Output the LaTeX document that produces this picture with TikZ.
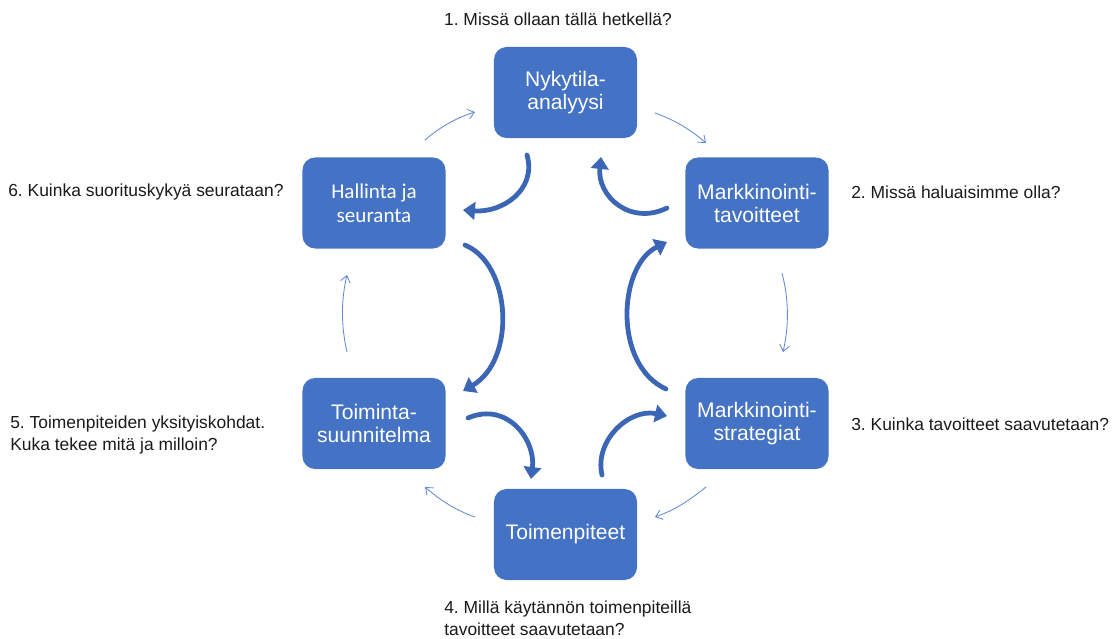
\documentclass[tikz,border=0pt]{standalone}
\usepackage{fontspec}
\setmainfont{Liberation Sans}
\newfontfamily\calfont{Carlito}
\usetikzlibrary{arrows.meta}
\frenchspacing
\definecolor{boxblue}{HTML}{4472C4}
\definecolor{bigblue}{HTML}{3B66B5}
\definecolor{thinblue}{HTML}{6189D3}
\definecolor{labeltext}{HTML}{1A1A1A}
\tikzset{
  stage/.style={draw=none, fill=boxblue, rounded corners=9pt, text=white,
    minimum width=3.575cm, minimum height=2.275cm, align=center,
    font=\fontsize{15}{16.4}\selectfont},
  question/.style={text=labeltext, align=left, inner sep=0pt,
    font=\fontsize{12.4}{15.5}\selectfont},
  flow/.style={thinblue, line width=0.6pt, -{Straight Barb[length=4.5pt,width=7pt]}},
  loop/.style={bigblue, line width=3.4pt, -{Triangle[length=8.5pt,width=12.5pt]}}
}
\begin{document}
\begin{tikzpicture}[x=0.025cm, y=-0.025cm, line cap=round]
      \useasboundingbox (0,0) rectangle (1114,639);

      \node[stage] (nyk) at (565.5,92.5) {Nykytila-\\analyysi};
      \node[stage] (tav) at (757,203) {Markkinointi-\\tavoitteet};
      \node[stage] (str) at (757,423.5) {Markkinointi-\\strategiat};
      \node[stage] (toi) at (565.5,534.5) {Toimenpiteet};
      \node[stage] (suu) at (374,423.5) {Toiminta-\\suunnitelma};
      \node[stage, font=\calfont\fontsize{15}{17}\selectfont] (hal) at (374,203) {Hallinta ja\\seuranta};

      \node[question, anchor=center] (q1) at (558,19) {1. Missä ollaan tällä hetkellä?};
      \node[question, anchor=west] (q2) at (851,192) {2. Missä haluaisimme olla?};
      \node[question, anchor=west] (q3) at (851,424) {3. Kuinka tavoitteet saavutetaan?};
      \node[question, anchor=west] (q4) at (444,618) {4. Millä käytännön toimenpiteillä\\tavoitteet saavutetaan?};
      \node[question, anchor=west] (q5) at (10,435) {5. Toimenpiteiden yksityiskohdat.\\Kuka tekee mitä ja milloin?};
      \node[question, anchor=west] (q6) at (8,192) {6. Kuinka suorituskykyä seurataan?};

      % outer ring
      \coordinate (a1) at (425,140);  \coordinate (a2) at (475,112);
      \coordinate (b1) at (655,113);  \coordinate (b2) at (706,143);
      \coordinate (c1) at (782,273);  \coordinate (c2) at (783,352);
      \coordinate (d1) at (706,487);  \coordinate (d2) at (655,517);
      \coordinate (e1) at (475,517);  \coordinate (e2) at (425,487);
      \coordinate (f1) at (347,352);  \coordinate (f2) at (347,275);

      \draw[flow] (a1) .. controls (440,127) and (456,118) .. (a2);
      \draw[flow] (b1) .. controls (675,120) and (691,130) .. (b2);
      \draw[flow] (c1) .. controls (789,300) and (789,326) .. (c2);
      \draw[flow] (d1) .. controls (690,500) and (675,510) .. (d2);
      \draw[flow] (e1) .. controls (455,510) and (440,500) .. (e2);
      \draw[flow] (f1) .. controls (341,326) and (341,300) .. (f2);

      % inner loops
      \coordinate (g1) at (527,155);  \coordinate (g2) at (463,210);
      \coordinate (h1) at (667,208);  \coordinate (h2) at (601,157);
      \coordinate (i1) at (465,245);  \coordinate (i2) at (463,391);
      \coordinate (j1) at (666,389);  \coordinate (j2) at (667,242);
      \coordinate (k1) at (468,418);  \coordinate (k2) at (531,479);
      \coordinate (l1) at (602,475);  \coordinate (l2) at (667,416);

      \draw[loop] (g1) .. controls (537,190) and (502,213) .. (g2);
      \draw[loop] (h1) .. controls (630,226) and (597,196) .. (h2);
      \draw[loop] (i1) .. controls (512,265) and (516,360) .. (i2);
      \draw[loop] (j1) .. controls (613,365) and (618,266) .. (j2);
      \draw[loop] (k1) .. controls (507,401) and (536,440) .. (k2);
      \draw[loop] (l1) .. controls (594,440) and (630,408) .. (l2);
    \end{tikzpicture}
\end{document}
